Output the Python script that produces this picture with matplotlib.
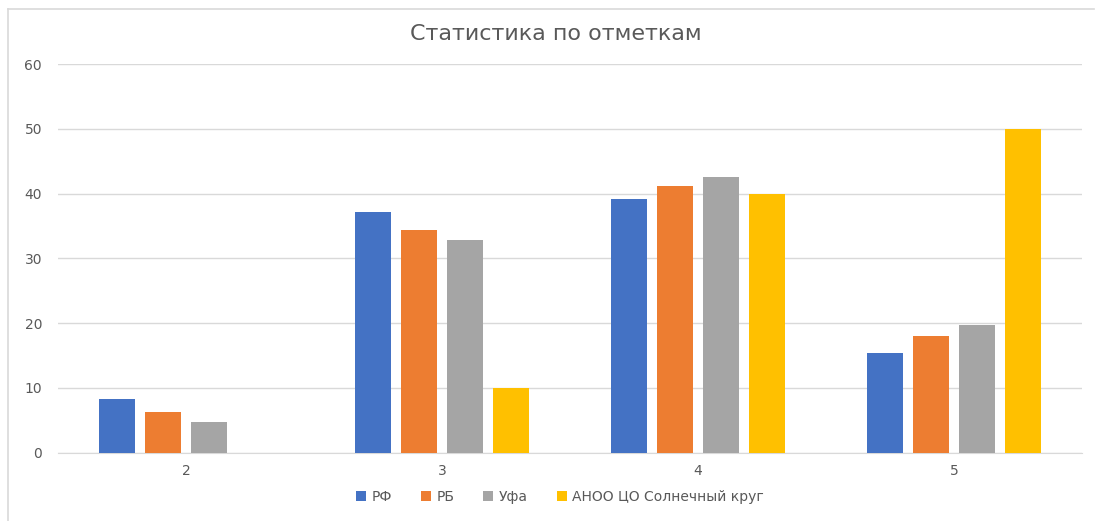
import matplotlib.pyplot as plt
from matplotlib.lines import Line2D
import numpy as np

plt.rcParams['font.family'] = ['DejaVu Sans']

otmetki = ['2', '3', '4', '5']
serii = ['РФ', 'РБ', 'Уфа', 'АНОО ЦО Солнечный круг']
rf = [8.25, 37.1, 39.1, 15.4]
rb = [6.3, 34.4, 41.2, 18.0]
ufa = [4.8, 32.9, 42.6, 19.7]
anoo = [0, 10, 40, 50]
cveta = ['#4472C4', '#ED7D31', '#A5A5A5', '#FFC000']

fig = plt.figure(figsize=(10.96, 5.21), dpi=100)
ax = fig.add_axes([58 / 1096, 1 - 452.7 / 521, 1024 / 1096, (452.7 - 64) / 521])

x = np.arange(len(otmetki))
shag = 0.18
shirina = 0.141
for j, (vals, name) in enumerate(zip([rf, rb, ufa, anoo], serii)):
    ax.bar(x + (j - 1.5) * shag, vals, shirina, color=cveta[j], label=name, zorder=3)

ax.set_xlim(-0.5, 3.5)
ax.set_ylim(0, 60)
ax.set_yticks(range(0, 61, 10))
ax.set_xticks(x)
ax.set_xticklabels(otmetki)
ax.grid(axis='y', color='#D9D9D9', linewidth=1, zorder=0)
for s in ['top', 'right', 'left']:
    ax.spines[s].set_visible(False)
ax.spines['bottom'].set_color('#D9D9D9')
ax.tick_params(axis='both', length=0, colors='#595959', labelsize=10)
ax.tick_params(axis='y', pad=11.5)
ax.tick_params(axis='x', pad=8)

fig.text(556 / 1096, 1 - 34 / 521, 'Статистика по отметкам', ha='center', va='center',
         fontsize=16, color='#595959')

fig.legend(loc='center', bbox_to_anchor=(560 / 1096, 1 - 497 / 521), ncol=4, frameon=False,
           fontsize=10, labelcolor='#595959', handlelength=0.7, handleheight=0.7,
           handletextpad=0.4, columnspacing=2.1)

fig.add_artist(Line2D([8 / 1096, 8 / 1096], [0, 1 - 9 / 521], transform=fig.transFigure,
                      color='#D9D9D9', linewidth=1.2))
fig.add_artist(Line2D([8 / 1096, 1094 / 1096], [1 - 9 / 521, 1 - 9 / 521], transform=fig.transFigure,
                      color='#D9D9D9', linewidth=1.2))

fig.savefig('out.png', dpi=100)
